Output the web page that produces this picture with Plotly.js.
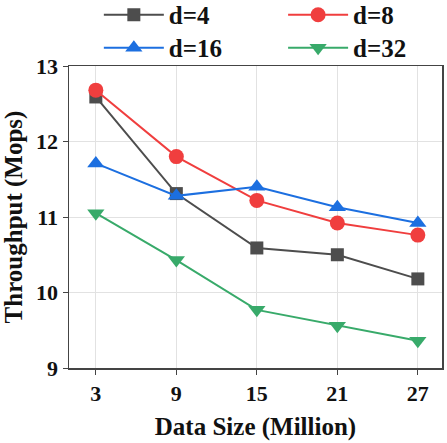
<!DOCTYPE html>
<html>
<head>
<meta charset="utf-8">
<script src="https://cdn.plot.ly/plotly-3.0.1.min.js"></script>
<style>
  html, body { margin: 0; padding: 0; background: #fff; }
  #chart { width: 447px; height: 443px; }
</style>
</head>
<body>
<div id="chart"></div>
<script>
const dataSizes = [3, 9, 15, 21, 27];
const d4Values  = [12.59, 11.31, 10.59, 10.50, 10.18];
const d8Values  = [12.68, 11.80, 11.22, 10.92, 10.76];
const d16Values = [11.71, 11.28, 11.40, 11.13, 10.92];
const d32Values = [11.05, 10.43, 9.77, 9.56, 9.36];

const seriesNames = ["d=4", "d=8", "d=16", "d=32"];

const fontFamily = "Times New Roman";

function makeTrace(name, values, color, symbol, size, legendId){
    return {
        x: dataSizes,
        y: values,
        name: name,
        legend: legendId,
        type: "scatter",
        mode: "lines+markers",
        line: {color: color, width: 2},
        marker: {color: color, symbol: symbol, size: size}
    };
}

const traces = [
    makeTrace(seriesNames[0], d4Values,  "#4d4d4d", "square",        13, "legend"),
    makeTrace(seriesNames[1], d8Values,  "#f03e3e", "circle",        15, "legend2"),
    makeTrace(seriesNames[2], d16Values, "#1c6fe0", "triangle-up",   15, "legend3"),
    makeTrace(seriesNames[3], d32Values, "#38aa6a", "triangle-down", 15, "legend4")
];

// one legend box per entry so the 2x2 grid sits where the original has it
function legendBox(x, y){
    return {
        orientation: "h",
        x: x, xanchor: "left",
        y: y, yanchor: "middle",
        font: {family: fontFamily, size: 25, color: "#111", weight: "bold"},
        itemwidth: 60,
        bgcolor: "rgba(0,0,0,0)"
    };
}

const layout = {
    width: 447,
    height: 443,
    paper_bgcolor: "#fff",
    plot_bgcolor: "#fff",
    margin: {l: 69, r: 5, t: 66, b: 75, autoexpand: false},
    font: {family: fontFamily, color: "#111", size: 20},
    showlegend: true,
    legend:  legendBox(0.080, 1.169),
    legend2: legendBox(0.574, 1.169),
    legend3: legendBox(0.080, 1.060),
    legend4: legendBox(0.574, 1.060),
    xaxis: {
        range: [1, 28.8],
        tickvals: dataSizes,
        ticktext: dataSizes.map(String),
        ticks: "outside", ticklen: 5, tickcolor: "#444",
        showline: true, linecolor: "#444", linewidth: 1.5, mirror: true,
        showgrid: true, gridcolor: "#e2e2e2", zeroline: false,
        tickfont: {family: fontFamily, size: 22, weight: "bold"},
        title: {text: "Data Size (Million)", font: {family: fontFamily, size: 25, weight: "bold"}, standoff: 12}
    },
    yaxis: {
        range: [9, 13],
        dtick: 1,
        ticks: "outside", ticklen: 5, tickcolor: "#444",
        showline: true, linecolor: "#444", linewidth: 1.5, mirror: true,
        showgrid: true, gridcolor: "#e2e2e2", zeroline: false,
        tickfont: {family: fontFamily, size: 22, weight: "bold"},
        title: {text: "Throughput (Mops)", font: {family: fontFamily, size: 25, weight: "bold"}, standoff: 8}
    }
};

Plotly.newPlot("chart", traces, layout, {displayModeBar: false, staticPlot: true});
</script>
</body>
</html>
